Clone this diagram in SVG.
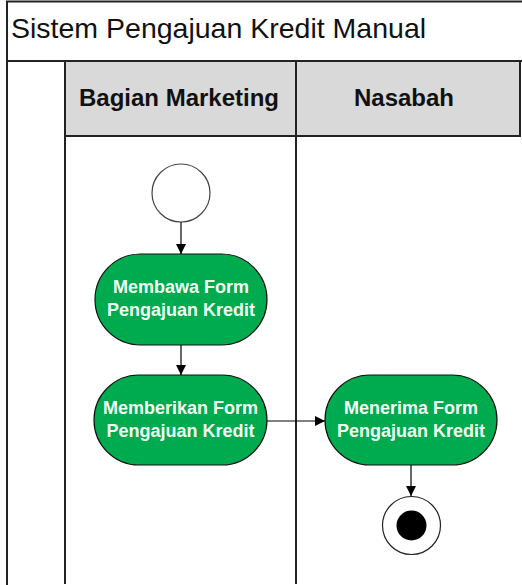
<svg xmlns="http://www.w3.org/2000/svg" width="522" height="585" viewBox="0 0 522 585">
<defs>
<style>
.frame{fill:none;stroke:#222;stroke-width:2}
.hdr{fill:#d9d9d9;stroke:#222;stroke-width:2}
.act{fill:#00aa4f;stroke:#111;stroke-width:1.2}
.at{font-family:"Liberation Sans",Arial,sans-serif;font-weight:bold;font-size:18px;fill:#f2fff2;text-anchor:middle}
.ht{font-family:"Liberation Sans",Arial,sans-serif;font-weight:bold;font-size:24px;fill:#111;text-anchor:middle}
.tt{font-family:"Liberation Sans",Arial,sans-serif;font-size:28.5px;fill:#111}
.conn{stroke:#000;stroke-width:1.2;fill:none}
</style>
<marker id="arr" viewBox="0 0 10 10" refX="10" refY="5" markerWidth="10" markerHeight="10" markerUnits="userSpaceOnUse" orient="auto">
<path d="M0,0 L10,5 L0,10 z" fill="#000"/>
</marker>
</defs>
<rect width="522" height="585" fill="#fff"/>
<g id="pool">
<rect x="7" y="1.5" width="530" height="59.5" class="frame" fill="#fff"/>
<line x1="7" y1="61" x2="7" y2="585" class="frame"/>
<rect x="65" y="61" width="455" height="75" class="hdr"/>
<line x1="65" y1="136" x2="65" y2="584" class="frame"/>
<line x1="296" y1="61" x2="296" y2="584" class="frame"/>
<text x="11" y="38" class="tt">Sistem Pengajuan Kredit Manual</text>
</g>
<g id="lane-marketing"><text x="179" y="106" class="ht">Bagian Marketing</text></g>
<g id="lane-nasabah"><text x="404" y="106" class="ht">Nasabah</text></g>
<g id="start"><circle cx="181" cy="193" r="29" fill="#fff" stroke="#444" stroke-width="1.2"/></g>
<g id="a1">
<rect x="95" y="254" width="172" height="91" rx="45.5" class="act"/>
<text x="181" y="293" class="at">Membawa Form</text>
<text x="181" y="316" class="at">Pengajuan Kredit</text>
</g>
<g id="a2">
<rect x="94" y="375" width="173" height="90" rx="45" class="act"/>
<text x="180.5" y="414" class="at">Memberikan Form</text>
<text x="180.5" y="437" class="at">Pengajuan Kredit</text>
</g>
<g id="a3">
<rect x="325" y="375" width="172" height="90" rx="45" class="act"/>
<text x="411" y="414" class="at">Menerima Form</text>
<text x="411" y="437" class="at">Pengajuan Kredit</text>
</g>
<g id="end">
<circle cx="411.5" cy="525.5" r="29" fill="#fff" stroke="#222" stroke-width="1.2"/>
<circle cx="411.5" cy="525.5" r="15" fill="#000"/>
</g>
<g id="connectors">
<line x1="181" y1="222" x2="181" y2="254" class="conn" marker-end="url(#arr)"/>
<line x1="181" y1="345" x2="181" y2="375" class="conn" marker-end="url(#arr)"/>
<line x1="267" y1="421" x2="325" y2="421" class="conn" marker-end="url(#arr)"/>
<line x1="411" y1="465" x2="411" y2="496" class="conn" marker-end="url(#arr)"/>
</g>
</svg>
